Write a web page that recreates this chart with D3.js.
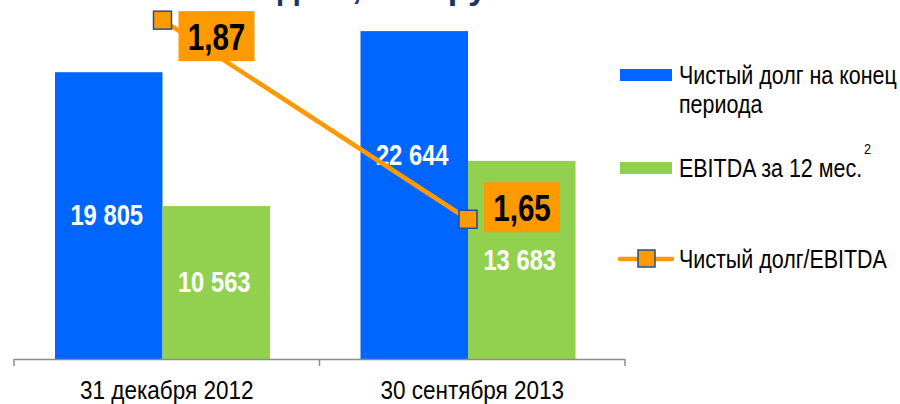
<!DOCTYPE html>
<html><head><meta charset="utf-8">
<script src="https://cdn.jsdelivr.net/npm/d3@7/dist/d3.min.js"></script>
<style>
html,body{margin:0;padding:0;background:#fff;}
svg{display:block;}
text{font-family:"Liberation Sans",Arial,sans-serif;}
</style></head>
<body>
<svg id="chart" width="900" height="404"></svg>
<script>
const categories = ["31 декабря 2012", "30 сентября 2013"];
const seriesNames = ["Чистый долг на конец периода", "EBITDA за 12 мес."];
const netDebt = [19805, 22644];
const ebitda = [10563, 13683];
const ratio = [1.87, 1.65];
const ratioLabels = ["1,87", "1,65"];
const lineName = "Чистый долг/EBITDA";
const titleText = "Чистый долг, млн руб.";

const colors = {blue:"#0066FF", green:"#92D050", orange:"#FF9900", marker:"#1F4E9F", title:"#17375E", axis:"#8C8C8C"};

const svg = d3.select("#chart");
const fmt = v => d3.format(",")(v).replace(/,/g, " ");

// condensed text helper (horizontal squeeze to mimic a narrow face)
function ntext(parent, x, y, str, size, sx, anchor, central) {
  const t = parent.append("text")
    .attr("transform", `translate(${x},${y}) scale(${sx},1)`)
    .attr("x", 0).attr("y", 0)
    .attr("font-size", size)
    .attr("text-anchor", anchor || "start")
    .text(str);
  if (central) t.attr("dominant-baseline", "central");
  return t;
}

const baseY = 359;
const x0 = d3.scaleBand().domain(categories).range([14, 625]).padding(0);
const x1 = d3.scaleBand().domain(seriesNames).range([0, 215]).padding(0);
const groupOffset = 41;
const y = d3.scaleLinear().domain([0, 25000]).range([baseY, baseY - 25000 * 0.01448]);
const y2 = d3.scaleLinear().domain([1.5, 1.9]).range([355, -7]);

// title (cut off at top edge, as in the reference)
svg.append("text").attr("x", 138).attr("y", -1).attr("text-anchor", "start")
  .attr("font-size", 34).attr("font-weight", "bold").attr("fill", colors.title)
  .text(titleText);

// bars
const rows = categories.map((c, i) => ({c, vals: [netDebt[i], ebitda[i]]}));
const g = svg.append("g");
rows.forEach((r) => {
  r.vals.forEach((v, j) => {
    const bx = x0(r.c) + groupOffset + x1(seriesNames[j]);
    g.append("rect").attr("x", bx).attr("y", y(v)).attr("width", x1.bandwidth())
      .attr("height", baseY - y(v)).attr("fill", j === 0 ? colors.blue : colors.green);
  });
});

// axis
const axis = d3.axisBottom(x0).tickSize(0).tickFormat(d => d);
const ax = svg.append("g").attr("transform", `translate(0,${baseY})`).call(axis);
ax.select(".domain").remove();
ax.selectAll("text").attr("font-size", 25).attr("fill", "#000")
  .attr("y", 40).attr("dy", 0).attr("transform", "scale(0.9,1)")
  .style("font-family", "'Liberation Sans',Arial,sans-serif");
const tickX = [x0.range()[0], ...categories.map(c => x0(c) + x0.bandwidth())];
svg.append("line").attr("x1", tickX[0]).attr("x2", tickX[tickX.length-1])
  .attr("y1", baseY + 0.5).attr("y2", baseY + 0.5).attr("stroke", colors.axis).attr("stroke-width", 1.5);
tickX.forEach(t => svg.append("line").attr("x1", t).attr("x2", t).attr("y1", baseY).attr("y2", baseY + 7)
  .attr("stroke", colors.axis).attr("stroke-width", 1.5));

// bar labels
rows.forEach((r, i) => {
  r.vals.forEach((v, j) => {
    const bx = x0(r.c) + groupOffset + x1(seriesNames[j]) + x1.bandwidth() / 2;
    let cy = (y(v) + baseY) / 2;
    if (i === 1 && j === 0) cy = y(v) + 124;
    ntext(svg, bx - 2, cy, fmt(v), 29, 0.82, "middle", true)
      .attr("font-weight", "bold").attr("fill", "#fff");
  });
});

// line
const pts = categories.map((c, i) => [x0(c) + groupOffset + x1.bandwidth(), y2(ratio[i])]);
svg.append("path").attr("d", d3.line()(pts)).attr("fill", "none")
  .attr("stroke", colors.orange).attr("stroke-width", 4.5);
pts.forEach(p => svg.append("rect").attr("x", p[0] - 9).attr("y", p[1] - 9).attr("width", 18).attr("height", 18)
  .attr("fill", colors.orange).attr("stroke", colors.marker).attr("stroke-width", 1.5));

// ratio labels
pts.forEach((p, i) => {
  const bx = p[0] + 16, cy = i === 0 ? p[1] + 16 : p[1] - 12;
  svg.append("rect").attr("x", bx).attr("y", cy - 25).attr("width", 76).attr("height", 50).attr("fill", colors.orange);
  ntext(svg, bx + 38, cy + 1, ratioLabels[i], 37, 0.8, "middle", true)
    .attr("font-weight", "bold").attr("fill", "#000");
});

// legend
const lg = svg.append("g");
const lx = 620, tx = 679, ls = 26, lsx = 0.825;
lg.append("rect").attr("x", lx).attr("y", 69).attr("width", 52).attr("height", 12).attr("fill", colors.blue);
ntext(lg, tx, 84, "Чистый долг на конец", ls, lsx);
ntext(lg, tx, 113, "периода", ls, lsx);
lg.append("rect").attr("x", lx).attr("y", 162).attr("width", 52).attr("height", 12).attr("fill", colors.green);
ntext(lg, tx, 177, seriesNames[1], ls, lsx);
ntext(lg, 864, 154, "2", 14, 0.9);
lg.append("line").attr("x1", lx).attr("x2", lx + 52).attr("y1", 259).attr("y2", 259)
  .attr("stroke", colors.orange).attr("stroke-width", 4.5).attr("stroke-linecap", "round");
lg.append("rect").attr("x", lx + 18).attr("y", 250).attr("width", 17).attr("height", 17)
  .attr("fill", colors.orange).attr("stroke", colors.marker).attr("stroke-width", 1.5);
ntext(lg, tx, 268, lineName, ls, lsx);
</script>
</body></html>
